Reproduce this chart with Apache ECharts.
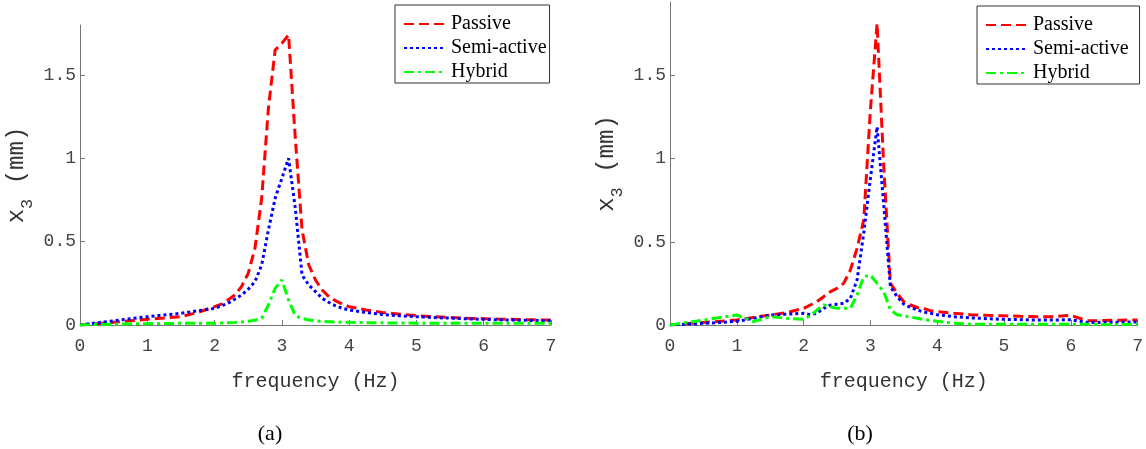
<!DOCTYPE html>
<html>
<head>
<meta charset="utf-8">
<script src="https://cdn.jsdelivr.net/npm/echarts@6/dist/echarts.min.js"></script>
<style>
  html, body { margin: 0; padding: 0; background: #fff; }
  #main { width: 1146px; height: 449px; }
</style>
</head>
<body>
<div id="main"></div>
<script>
// frequency grid (Hz), shared by both panels
const freq = [0, 0.25, 0.5, 0.75, 1, 1.25, 1.5, 1.75, 2,
  2.1, 2.2, 2.3, 2.4, 2.5, 2.6, 2.7, 2.8, 2.9, 3, 3.1, 3.2, 3.3, 3.4, 3.5, 3.6, 3.7, 3.8, 3.9, 4,
  4.25, 4.5, 4.75, 5, 5.25, 5.5, 5.75, 6, 6.25, 6.5, 6.75, 7]

// panel (a)
const passiveA = [0, 0.008, 0.017, 0.025, 0.035, 0.042, 0.05, 0.075, 0.11,
  0.125, 0.15, 0.18, 0.23, 0.31, 0.46, 0.76, 1.3, 1.65, 1.69, 1.74, 1.12, 0.57, 0.36, 0.27, 0.21, 0.17, 0.145, 0.125, 0.11,
  0.09, 0.075, 0.065, 0.056, 0.05, 0.045, 0.041, 0.038, 0.035, 0.033, 0.031, 0.03]
const semiA = [0, 0.013, 0.025, 0.038, 0.05, 0.06, 0.07, 0.085, 0.1,
  0.115, 0.13, 0.155, 0.18, 0.215, 0.26, 0.36, 0.57, 0.76, 0.88, 1.0, 0.7, 0.3, 0.24, 0.2, 0.16, 0.135, 0.115, 0.1, 0.09,
  0.075, 0.063, 0.055, 0.05, 0.045, 0.041, 0.037, 0.034, 0.031, 0.029, 0.027, 0.025]
const hybridA = [0, 0.003, 0.005, 0.007, 0.008, 0.009, 0.01, 0.01, 0.011,
  0.012, 0.013, 0.015, 0.018, 0.022, 0.028, 0.04, 0.12, 0.22, 0.27, 0.15, 0.055, 0.04, 0.03, 0.025, 0.022, 0.02, 0.018, 0.017, 0.016,
  0.014, 0.013, 0.012, 0.011, 0.01, 0.01, 0.01, 0.01, 0.01, 0.01, 0.01, 0.01]

// panel (b)
const passiveB = [0, 0.008, 0.015, 0.022, 0.03, 0.045, 0.06, 0.075, 0.1,
  0.12, 0.14, 0.17, 0.2, 0.22, 0.25, 0.33, 0.46, 0.63, 1.29, 1.81, 0.95, 0.25, 0.19, 0.14, 0.12, 0.105, 0.1, 0.085, 0.08,
  0.07, 0.062, 0.058, 0.055, 0.052, 0.05, 0.05, 0.058, 0.025, 0.027, 0.029, 0.03]
const semiB = [0, 0.005, 0.01, 0.015, 0.022, 0.04, 0.06, 0.065, 0.07,
  0.062, 0.07, 0.1, 0.12, 0.125, 0.13, 0.16, 0.27, 0.55, 0.88, 1.19, 0.72, 0.23, 0.17, 0.125, 0.105, 0.09, 0.078, 0.07, 0.062,
  0.05, 0.043, 0.038, 0.034, 0.032, 0.03, 0.03, 0.032, 0.015, 0.016, 0.017, 0.018]
const hybridB = [0, 0.015, 0.03, 0.045, 0.06, 0.02, 0.05, 0.04, 0.035,
  0.055, 0.09, 0.12, 0.11, 0.1, 0.1, 0.1, 0.18, 0.29, 0.3, 0.25, 0.2, 0.09, 0.062, 0.055, 0.048, 0.04, 0.033, 0.028, 0.022,
  0.01, 0.005, 0.005, 0.005, 0.005, 0.005, 0.005, 0.005, 0.004, 0.002, 0.003, 0.005]

const xTicks = [0, 1, 2, 3, 4, 5, 6, 7]
const yTicks = [0, 0.5, 1, 1.5]

const mono = 'Liberation Mono'
const serif = 'Liberation Serif'

const pairs = (ys) => freq.map((f, i) => [f, ys[i]])

function xAxisOf(gridIndex) {
  return {
    type: 'value',
    gridIndex: gridIndex,
    min: 0,
    max: 7,
    interval: 1,
    name: 'frequency (Hz)',
    nameLocation: 'middle',
    nameGap: 47,
    nameTextStyle: { fontFamily: mono, fontSize: 20, color: '#333' },
    axisLine: { show: true, lineStyle: { color: '#777', width: 1 } },
    axisTick: { show: true, inside: true, length: 5, lineStyle: { color: '#777' } },
    axisLabel: { margin: 12, fontFamily: mono, fontSize: 18, color: '#444', customValues: xTicks },
    splitLine: { show: false }
  }
}

function yAxisOf(gridIndex, max) {
  return {
    type: 'value',
    gridIndex: gridIndex,
    min: 0,
    max: max,
    name: '{x|x}{s|3}{u| (mm)}',
    nameLocation: 'middle',
    nameGap: 44,
    nameTextStyle: {
      color: '#333',
      rich: {
        x: { fontFamily: mono, fontSize: 24, lineHeight: 38, color: '#333' },
        s: { fontFamily: mono, fontSize: 17, lineHeight: 17, verticalAlign: 'bottom', color: '#333' },
        u: { fontFamily: mono, fontSize: 24, lineHeight: 38, color: '#333' }
      }
    },
    axisLine: { show: true, lineStyle: { color: '#777', width: 1 } },
    axisTick: { show: true, inside: true, length: 5, lineStyle: { color: '#777' }, customValues: yTicks },
    axisLabel: { margin: 4, fontFamily: mono, fontSize: 18, color: '#444', customValues: yTicks },
    splitLine: { show: false }
  }
}

function legendOf(left, top, padRight) {
  return {
    left: left,
    top: top,
    orient: 'vertical',
    padding: [9, padRight, 1, 8],
    itemGap: 4,
    itemWidth: 42,
    itemHeight: 14,
    borderColor: '#333',
    borderWidth: 1,
    backgroundColor: '#fff',
    itemStyle: { opacity: 0 },
    textStyle: { fontFamily: serif, fontSize: 20, color: '#000' },
    data: ['Passive', 'Semi-active', 'Hybrid']
  }
}

function lineSeries(name, data, idx, color, dash) {
  return {
    name: name,
    type: 'line',
    xAxisIndex: idx,
    yAxisIndex: idx,
    data: pairs(data),
    symbol: 'none',
    animation: false,
    color: color,
    lineStyle: { color: color, width: 3, type: dash }
  }
}

const dashed = [10, 5]
const dotted = [3, 3]
const dashDot = [10, 4, 3, 4]

const chart = echarts.init(document.getElementById('main'))
chart.setOption({
  backgroundColor: '#fff',
  animation: false,
  grid: [
    { left: 80, top: 25, width: 471, height: 300 },
    { left: 670, top: 2, width: 471, height: 323 }
  ],
  xAxis: [xAxisOf(0), xAxisOf(1)],
  yAxis: [yAxisOf(0, 1.8), yAxisOf(1, 1.94)],
  legend: [legendOf(395, 5, 3), legendOf(977, 6, 11)],
  graphic: [
    { type: 'text', x: 270, y: 434, style: { text: '(a)', fontFamily: serif, fontSize: 22, fill: '#000', align: 'center', verticalAlign: 'middle' } },
    { type: 'text', x: 860, y: 434, style: { text: '(b)', fontFamily: serif, fontSize: 22, fill: '#000', align: 'center', verticalAlign: 'middle' } }
  ],
  series: [
    lineSeries('Passive', passiveA, 0, '#ff0000', dashed),
    lineSeries('Semi-active', semiA, 0, '#0000ff', dotted),
    lineSeries('Hybrid', hybridA, 0, '#00ff00', dashDot),
    lineSeries('Passive', passiveB, 1, '#ff0000', dashed),
    lineSeries('Semi-active', semiB, 1, '#0000ff', dotted),
    lineSeries('Hybrid', hybridB, 1, '#00ff00', dashDot)
  ]
})
</script>
</body>
</html>
